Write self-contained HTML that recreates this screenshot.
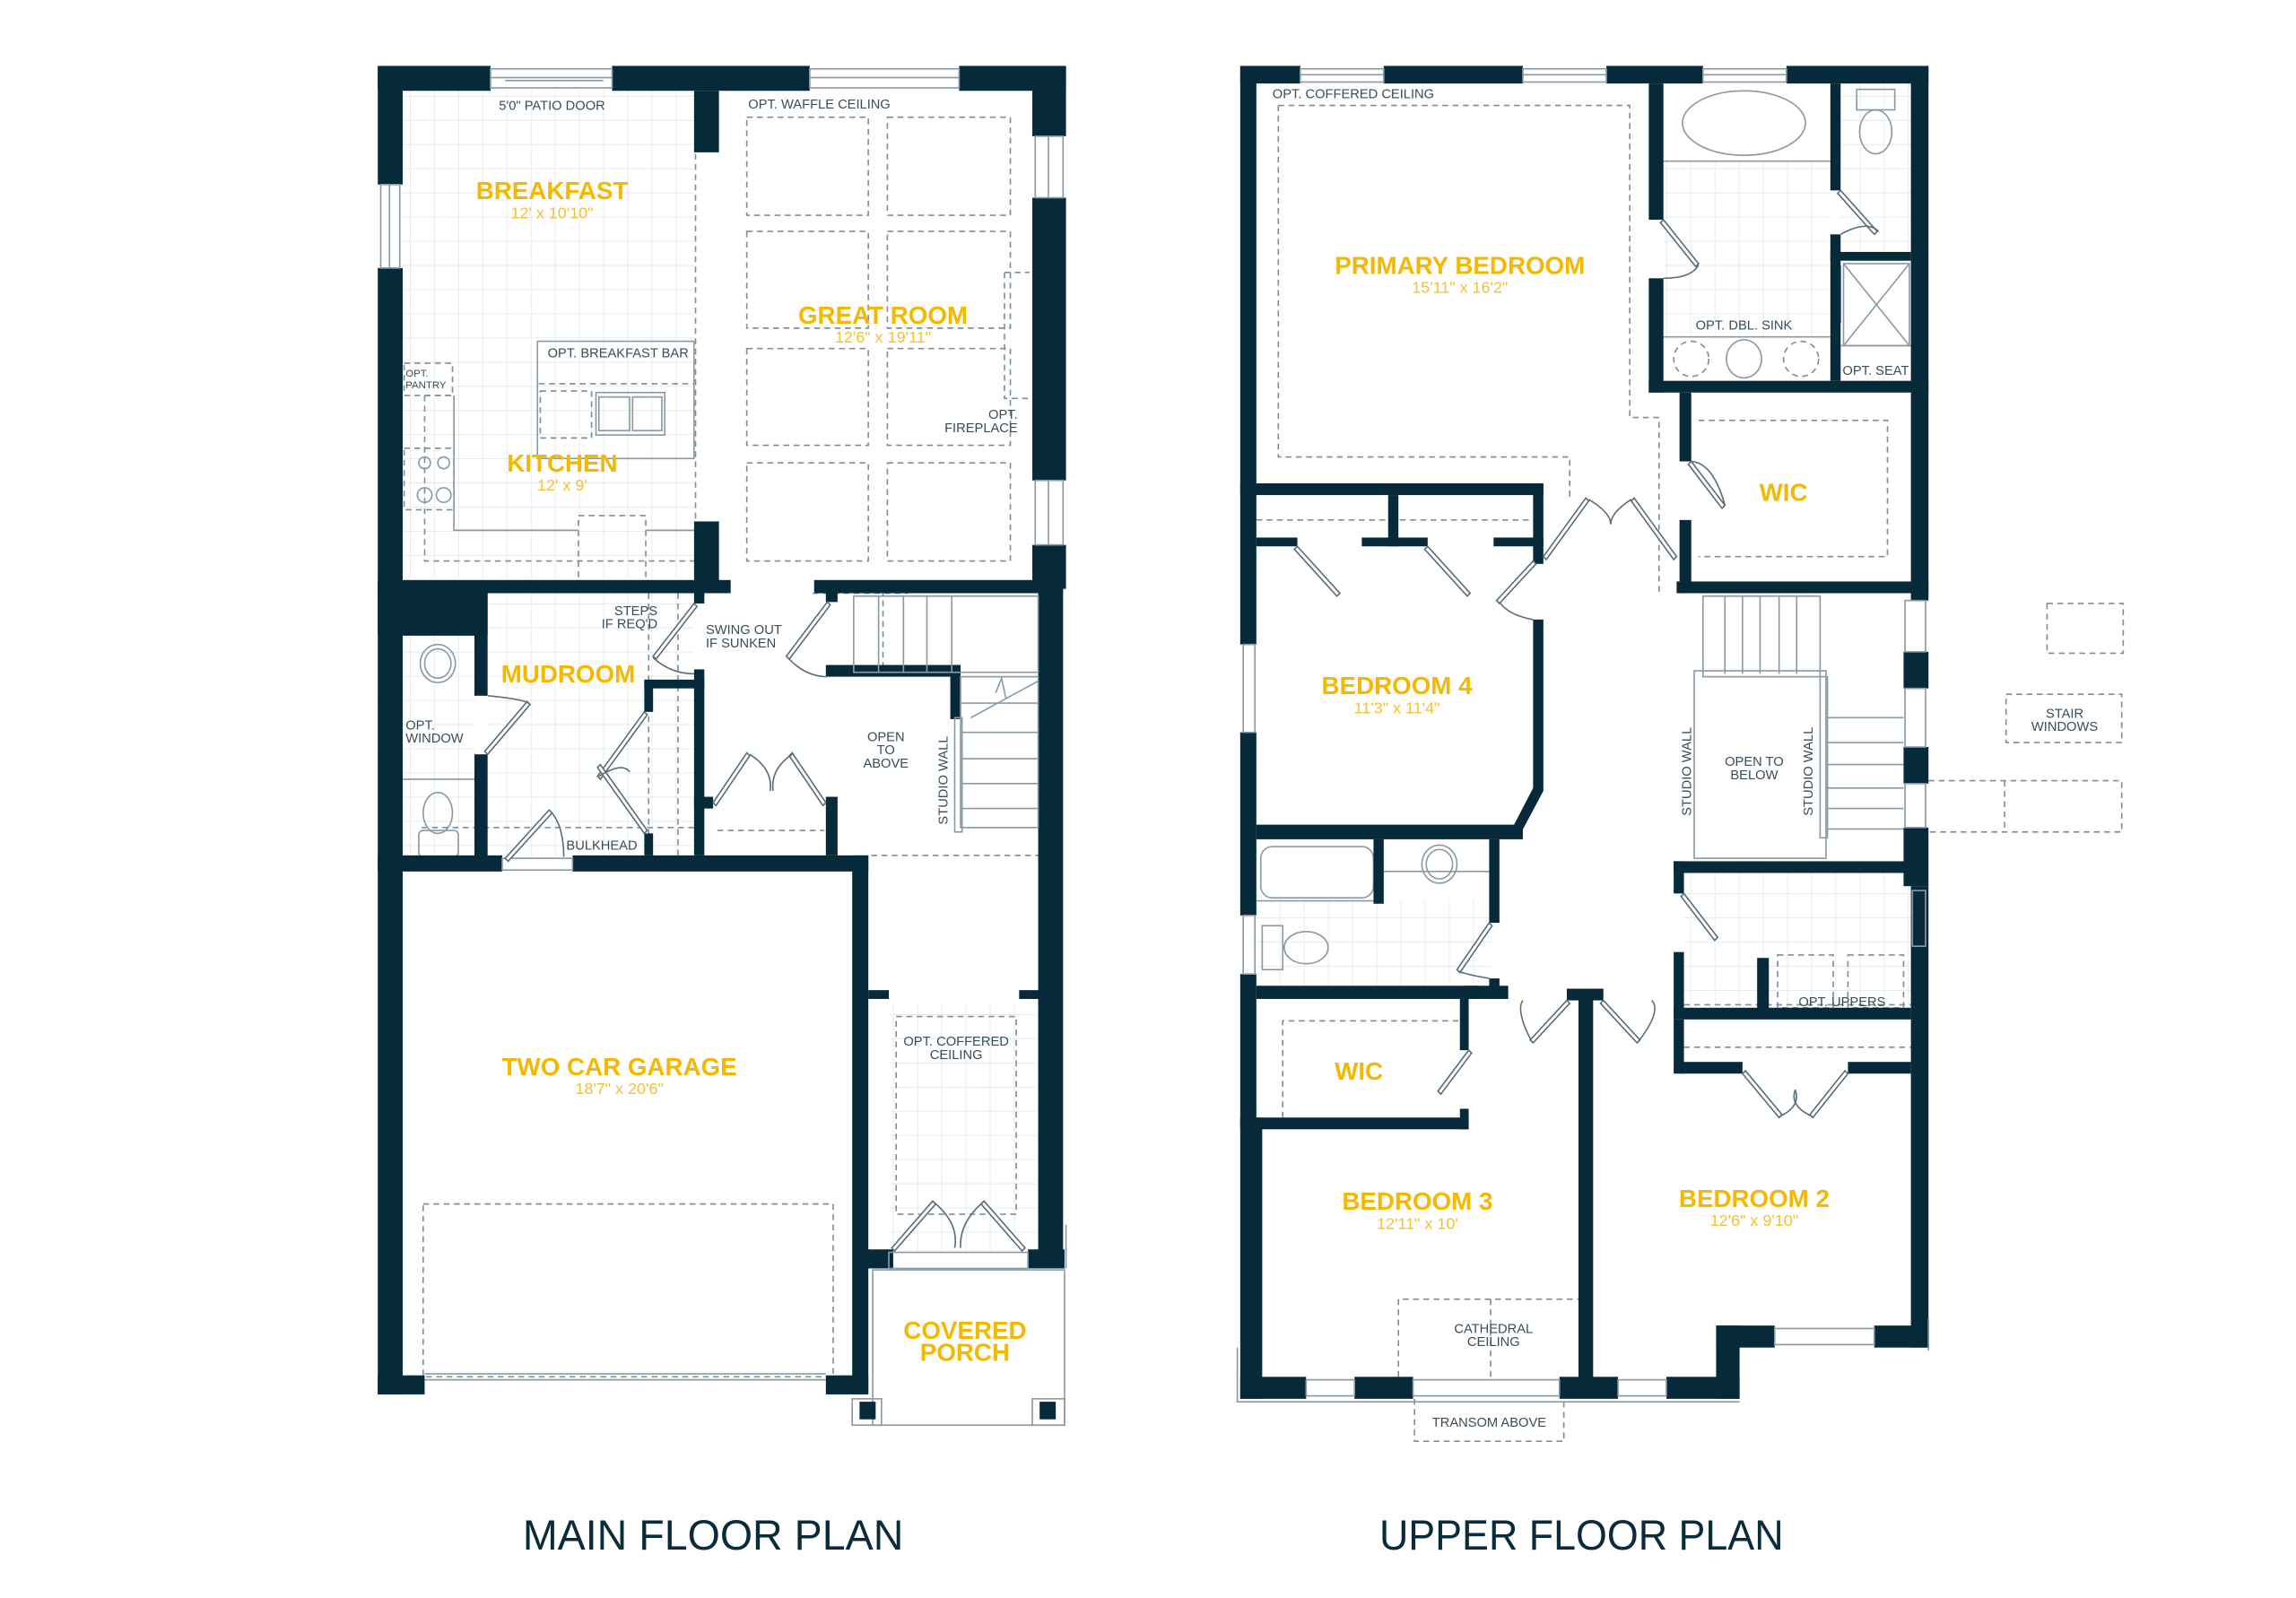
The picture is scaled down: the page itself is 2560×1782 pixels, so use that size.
<!DOCTYPE html>
<html><head><meta charset="utf-8"><style>
html,body{margin:0;padding:0;background:#fff;}
svg{display:block;}
.w{fill:#062a3a;}
.l{fill:none;stroke:#8a9aa5;stroke-width:1;}
.d{fill:none;stroke:#7f8f99;stroke-width:1;stroke-dasharray:4 3;}
.dr{fill:#fff;stroke:#5c6e79;stroke-width:1;}
.t{font-family:"Liberation Sans",sans-serif;fill:#3a4c57;font-size:9px;}
.r{font-family:"Liberation Sans",sans-serif;font-weight:bold;fill:#f5b800;font-size:17px;}
.s{font-family:"Liberation Sans",sans-serif;fill:#f5c030;font-size:11px;}
</style></head><body>
<svg width="2560" height="1782" viewBox="0 0 1568 1091" preserveAspectRatio="none" xmlns="http://www.w3.org/2000/svg">
<defs>
<pattern id="g" width="16.5" height="16.5" patternUnits="userSpaceOnUse">
<path d="M16.5 0V16.5H0" fill="none" stroke="#e2e8ec" stroke-width="1"/>
</pattern>
</defs>
<rect width="1600" height="1100" fill="#fff"/>

<!-- ===== MAIN FLOOR ===== -->
<rect x="275" y="62" width="199" height="333" fill="url(#g)"/>
<rect x="333" y="405" width="141" height="180" fill="url(#g)"/>
<rect x="275" y="434" width="50" height="150" fill="url(#g)"/>
<rect x="608" y="685" width="100" height="170" fill="url(#g)"/>

<g class="d">
<rect x="510" y="80" width="83" height="67"/><rect x="606" y="80" width="84" height="67"/>
<rect x="510" y="158" width="83" height="66"/><rect x="606" y="158" width="84" height="66"/>
<rect x="510" y="238" width="83" height="66"/><rect x="606" y="238" width="84" height="66"/>
<rect x="510" y="316" width="83" height="67"/><rect x="606" y="316" width="84" height="67"/>
<path d="M686 186H703M686 186V272H703"/>
<path d="M475 105V355"/>
<path d="M290 270V383H474M290 270H310"/>
<rect x="276" y="248" width="33" height="22"/>
<rect x="276" y="306" width="34" height="42"/>
<rect x="395" y="352" width="46" height="45"/>
<path d="M368 262H474"/>
<rect x="369" y="267" width="35" height="32"/>
<path d="M288 565H474M463 405V584M443 405V584"/>
<path d="M555 405H620M603 403V455"/>
<path d="M490 567H563"/>
<path d="M595 584H709"/>
<rect x="289" y="822" width="280" height="118"/>
<rect x="612" y="694" width="82" height="135"/>
<path d="M261 478V518M258 478H275M258 518H275"/>
</g>
<g class="l">
<rect x="367" y="233" width="107" height="80"/>
<path d="M310 270V362H395M441 362H474"/>
<rect x="407" y="268" width="47" height="29"/>
<path d="M409 271h21v23h-21zM432 271h20v23h-20z"/>
<circle cx="290" cy="316" r="4"/><circle cx="303" cy="316" r="4"/><circle cx="290" cy="338" r="5"/><circle cx="303" cy="338" r="5"/>
<ellipse cx="299" cy="453" rx="12" ry="13"/><ellipse cx="299" cy="453" rx="9" ry="10"/>
<ellipse cx="299" cy="555" rx="10" ry="14"/><rect x="286" y="567" width="27" height="18" rx="3"/>
<path d="M275 532H325"/>
</g>
<g class="w">
<rect x="258" y="45" width="77" height="17"/><rect x="418" y="45" width="135" height="17"/><rect x="655" y="45" width="73" height="17"/>
<rect x="258" y="45" width="17" height="81"/><rect x="258" y="183" width="17" height="769"/>
<rect x="705" y="45" width="23" height="48"/><rect x="705" y="135" width="23" height="193"/><rect x="705" y="372" width="23" height="30"/>
<rect x="709" y="400" width="17" height="466"/>
<rect x="474" y="62" width="17" height="42"/><rect x="474" y="356" width="17" height="44"/>
<rect x="258" y="396" width="241" height="9"/><rect x="556" y="396" width="170" height="9"/>
<rect x="258" y="400" width="75" height="34"/>
<rect x="324" y="400" width="9" height="75"/><rect x="324" y="515" width="9" height="75"/>
<rect x="258" y="584" width="85" height="11"/><rect x="391" y="584" width="202" height="11"/>
<rect x="582" y="584" width="11" height="368"/>
<rect x="258" y="939" width="32" height="13"/><rect x="564" y="939" width="29" height="13"/>
<rect x="474" y="400" width="7" height="12"/><rect x="474" y="457" width="7" height="127"/>
<rect x="440" y="464" width="41" height="6"/><rect x="440" y="464" width="6" height="22"/><rect x="440" y="569" width="6" height="15"/>
<rect x="564" y="403" width="8" height="8"/><rect x="564" y="454" width="92" height="8"/>
<rect x="649" y="454" width="7" height="37"/>
<rect x="564" y="544" width="8" height="40"/><rect x="474" y="544" width="13" height="8"/>
<rect x="593" y="676" width="14" height="6"/><rect x="696" y="676" width="14" height="6"/>
<rect x="583" y="853" width="27" height="13"/><rect x="702" y="853" width="25" height="13"/>
</g>
<g class="l">
<rect x="335" y="47" width="83" height="13"/><path d="M335 53H418M345 55H412"/>
<rect x="553" y="47" width="102" height="13"/><path d="M553 53H655"/>
<rect x="260" y="126" width="13" height="57"/><path d="M266 126V183"/>
<rect x="707" y="93" width="19" height="42"/><path d="M716 93V135"/>
<rect x="707" y="328" width="19" height="44"/><path d="M716 328V372"/>
<rect x="343" y="586" width="48" height="8"/>
<path d="M290 942H564M290 938H564"/>
<rect x="607" y="855" width="95" height="11"/>
<rect x="596" y="867" width="131" height="106"/>
<rect x="582" y="955" width="20" height="18"/><rect x="705" y="955" width="22" height="18"/>
<path d="M728 836V866"/>
</g>
<rect class="w" x="587" y="957" width="11" height="12"/><rect class="w" x="710" y="957" width="11" height="12"/>
<g class="l">
<rect x="583" y="407" width="126" height="52"/>
<path d="M600 407V459M617 407V459M633 407V459M650 407V459"/>
<rect x="656" y="462" width="53" height="103"/>
<path d="M656 480H709M656 500H709M656 518H709M656 535H709M656 552H709"/>
<rect x="652" y="490" width="5" height="78"/>
<path d="M663 490L709 465M680 473l4 -10 3 14"/>
</g>
<g class="dr">
<path d="M333 515L362 481L360 479L331 513Z"/><path d="M333 475Q355 477 361 480" fill="none"/>
<path d="M474 412L446 448L448 450L476 414Z"/><path d="M446 449Q458 460 474 460" fill="none"/>
<path d="M565 411L537 448L539 450L567 413Z"/><path d="M538 449Q550 462 565 462" fill="none"/>
<path d="M440 486L408 530L410 532L442 488Z"/><path d="M440 569L408 524L410 522L442 567Z"/>
<path d="M487 548L510 514L512 516L489 550Z"/><path d="M564 548L541 514L539 516L562 550Z"/>
<path d="M345 586L375 553L377 555L347 588Z"/>
<path d="M609 852L637 820L639 822L611 854Z"/><path d="M700 852L672 820L670 822L698 854Z"/>
</g>
<path d="M409 530Q425 520 430 527M512 515Q528 525 526 540M541 515Q526 525 528 540M638 821Q655 835 652 852M671 821Q655 835 656 852M377 555Q385 565 385 585" fill="none" stroke="#5c6e79" stroke-width="1"/>

<text class="t" x="377" y="75" text-anchor="middle">5'0" PATIO DOOR</text>
<text class="t" x="511" y="74">OPT. WAFFLE CEILING</text>
<text class="r" x="377" y="136" text-anchor="middle">BREAKFAST</text>
<text class="s" x="377" y="149" text-anchor="middle">12' x 10'10"</text>
<text class="r" x="603" y="221" text-anchor="middle">GREAT ROOM</text>
<text class="s" x="603" y="234" text-anchor="middle">12'6" x 19'11"</text>
<text class="t" x="374" y="244">OPT. BREAKFAST BAR</text>
<text class="t" x="277" y="257" style="font-size:7px">OPT.</text>
<text class="t" x="277" y="265" style="font-size:7px">PANTRY</text>
<text class="t" x="695" y="286" text-anchor="end">OPT.</text>
<text class="t" x="695" y="295" text-anchor="end">FIREPLACE</text>
<text class="r" x="384" y="322" text-anchor="middle">KITCHEN</text>
<text class="s" x="384" y="335" text-anchor="middle">12' x 9'</text>
<text class="t" x="449" y="420" text-anchor="end">STEPS</text>
<text class="t" x="449" y="429" text-anchor="end">IF REQ'D</text>
<text class="t" x="482" y="433">SWING OUT</text>
<text class="t" x="482" y="442">IF SUNKEN</text>
<text class="r" x="388" y="466" text-anchor="middle">MUDROOM</text>
<text class="t" x="277" y="498">OPT.</text>
<text class="t" x="277" y="507">WINDOW</text>
<text class="t" x="605" y="506" text-anchor="middle">OPEN</text>
<text class="t" x="605" y="515" text-anchor="middle">TO</text>
<text class="t" x="605" y="524" text-anchor="middle">ABOVE</text>
<text class="t" transform="translate(647 563) rotate(-90)">STUDIO WALL</text>
<text class="t" x="411" y="580" text-anchor="middle">BULKHEAD</text>
<text class="t" x="653" y="714" text-anchor="middle">OPT. COFFERED</text>
<text class="t" x="653" y="723" text-anchor="middle">CEILING</text>
<text class="r" x="423" y="734" text-anchor="middle">TWO CAR GARAGE</text>
<text class="s" x="423" y="747" text-anchor="middle">18'7" x 20'6"</text>
<text class="r" x="659" y="914" text-anchor="middle">COVERED</text>
<text class="r" x="659" y="929" text-anchor="middle">PORCH</text>

<!-- ===== UPPER FLOOR ===== -->
<rect x="1136" y="110" width="114" height="120" fill="url(#g)"/>
<rect x="1257" y="57" width="48" height="115" fill="url(#g)"/>
<rect x="858" y="615" width="160" height="58" fill="url(#g)"/>
<rect x="1150" y="596" width="155" height="92" fill="url(#g)"/>
<g class="d">
<path d="M873 72H1113V285H1133V405M873 72V312H1072V340"/>
<path d="M1160 287H1289V380H1160"/>
<path d="M858 355H1047"/>
<rect x="1398" y="412" width="52" height="34"/>
<rect x="1370" y="474" width="79" height="33"/>
<path d="M1317 533H1449V568H1317M1369 533V568"/>
<rect x="1214" y="652" width="38" height="36"/><rect x="1262" y="652" width="38" height="36"/>
<path d="M1150 686H1305"/>
<path d="M876 770V697H997"/>
<path d="M1150 715H1305"/>
<path d="M955 940V887H1080M1018 887V940"/>
<path d="M966 955V984H1068V955"/>
<ellipse cx="1155" cy="245" rx="12" ry="12"/><ellipse cx="1230" cy="245" rx="12" ry="12"/>
</g>
<g class="l">
<ellipse cx="1191" cy="84" rx="42" ry="22"/>
<path d="M1136 110H1250M1136 230H1250"/>
<ellipse cx="1191" cy="245" rx="12" ry="13"/>
<rect x="1268" y="61" width="26" height="14"/><ellipse cx="1281" cy="90" rx="11" ry="15"/>
<rect x="1259" y="180" width="45" height="56"/><path d="M1259 180L1304 236M1304 180L1259 236M1257 236H1305"/>
<rect x="1252" y="182" width="5" height="38"/>
<rect x="861" y="578" width="77" height="35" rx="8"/>
<ellipse cx="983" cy="590" rx="12" ry="13"/><ellipse cx="983" cy="590" rx="9" ry="10"/>
<rect x="862" y="632" width="14" height="30"/><ellipse cx="892" cy="647" rx="15" ry="11"/>
<path d="M858 615H938M945 595H1017"/>
<rect x="1163" y="407" width="80" height="55"/>
<path d="M1178 407V460M1190 407V460M1202 407V460M1215 407V460M1227 407V460"/>
<rect x="1157" y="458" width="90" height="128"/>
<path d="M1247 490H1300M1247 507H1300M1247 522H1300M1247 538H1300M1247 552H1300M1247 566H1300"/>
<rect x="1243" y="462" width="5" height="110"/>
</g>
<g class="w">
<rect x="847" y="45" width="41" height="12"/><rect x="945" y="45" width="95" height="12"/><rect x="1097" y="45" width="66" height="12"/><rect x="1220" y="45" width="97" height="12"/>
<rect x="847" y="45" width="11" height="395"/><rect x="847" y="500" width="11" height="125"/><rect x="847" y="665" width="11" height="103"/>
<rect x="847" y="763" width="15" height="192"/>
<rect x="1305" y="45" width="12" height="365"/><rect x="1300" y="445" width="17" height="25"/><rect x="1300" y="510" width="17" height="25"/><rect x="1300" y="565" width="17" height="40"/>
<rect x="1305" y="605" width="12" height="315"/>
<rect x="1126" y="57" width="10" height="93"/><rect x="1126" y="190" width="10" height="78"/>
<rect x="1126" y="260" width="191" height="8"/>
<rect x="1250" y="57" width="7" height="73"/><rect x="1250" y="160" width="7" height="100"/>
<rect x="1250" y="172" width="55" height="6"/>
<rect x="1147" y="268" width="8" height="47"/><rect x="1147" y="355" width="8" height="50"/>
<rect x="1145" y="397" width="172" height="8"/>
<rect x="847" y="330" width="207" height="8"/><rect x="1047" y="330" width="7" height="55"/>
<rect x="858" y="367" width="28" height="6"/><rect x="930" y="367" width="45" height="6"/><rect x="1020" y="367" width="34" height="6"/>
<rect x="948" y="338" width="7" height="35"/>
<path d="M1047 423H1054V540L1038 570H858V563H1034L1047 538Z"/>
<rect x="858" y="565" width="182" height="8"/>
<rect x="938" y="573" width="7" height="44"/>
<rect x="1017" y="573" width="7" height="57"/><rect x="1017" y="668" width="7" height="10"/>
<rect x="858" y="673" width="172" height="9"/><rect x="1000" y="673" width="10" height="9"/>
<rect x="997" y="682" width="6" height="35"/><rect x="997" y="757" width="6" height="14"/>
<rect x="847" y="763" width="156" height="8"/>
<rect x="1078" y="675" width="10" height="270"/>
<rect x="1070" y="675" width="25" height="8"/>
<rect x="1143" y="588" width="162" height="8"/>
<rect x="1143" y="588" width="7" height="22"/><rect x="1143" y="650" width="7" height="45"/>
<rect x="1200" y="654" width="8" height="36"/>
<rect x="1143" y="688" width="162" height="8"/>
<rect x="1143" y="696" width="7" height="37"/>
<rect x="1147" y="725" width="43" height="8"/><rect x="1262" y="725" width="43" height="8"/>
<rect x="847" y="940" width="45" height="15"/><rect x="925" y="940" width="40" height="15"/><rect x="1065" y="940" width="40" height="15"/><rect x="1138" y="940" width="50" height="15"/>
<rect x="1172" y="905" width="16" height="50"/><rect x="1172" y="905" width="40" height="15"/><rect x="1280" y="905" width="37" height="15"/>
</g>
<g class="l">
<rect x="888" y="47" width="57" height="9"/><path d="M888 51H945"/>
<rect x="1040" y="47" width="57" height="9"/><path d="M1040 51H1097"/>
<rect x="1163" y="47" width="57" height="9"/><path d="M1163 51H1220"/>
<rect x="849" y="440" width="8" height="60"/><rect x="849" y="625" width="8" height="40"/>
<rect x="1301" y="410" width="14" height="35"/><rect x="1301" y="470" width="14" height="40"/><rect x="1301" y="535" width="14" height="30"/>
<rect x="1306" y="608" width="9" height="38"/>
<rect x="892" y="942" width="33" height="11"/><rect x="965" y="942" width="100" height="11"/><rect x="1105" y="942" width="33" height="11"/>
<rect x="1212" y="907" width="68" height="11"/>
<path d="M845 920V957H1188M1317 900V922"/>
</g>
<g class="dr">
<path d="M1136 150L1160 180L1158 182L1134 152Z"/><path d="M1257 130L1282 158L1280 160L1255 132Z"/>
<path d="M1155 315L1178 345L1176 347L1153 317Z"/>
<path d="M1054 380L1083 340L1085 342L1056 382Z"/><path d="M1145 380L1116 340L1114 342L1143 382Z"/>
<path d="M886 373L915 405L913 407L884 375Z"/><path d="M975 373L1004 405L1002 407L973 375Z"/>
<path d="M1047 383L1022 410L1024 412L1049 385Z"/>
<path d="M1017 630L995 662L997 664L1019 632Z"/>
<path d="M1150 610L1173 640L1171 642L1148 612Z"/>
<path d="M1003 717L982 745L984 747L1005 719Z"/>
<path d="M1070 683L1045 710L1047 712L1072 685Z"/><path d="M1095 683L1120 710L1118 712L1093 685Z"/>
<path d="M1190 733L1215 763L1217 761L1192 731Z"/><path d="M1262 733L1238 763L1236 761L1260 731Z"/>
</g>
<path d="M1136 190Q1155 190 1160 181M1257 160Q1275 150 1283 158M1155 315Q1170 316 1178 345M1085 341Q1100 350 1100 358M1114 341Q1100 350 1100 358M1024 411Q1030 420 1047 423M1017 668Q1000 665 996 663M1226 744Q1230 755 1216 762M1226 744Q1222 755 1237 762M1046 711Q1035 690 1040 683M1119 711Q1135 690 1128 683" fill="none" stroke="#5c6e79" stroke-width="1"/>

<text class="t" x="869" y="67">OPT. COFFERED CEILING</text>
<text class="r" x="997" y="187" text-anchor="middle">PRIMARY BEDROOM</text>
<text class="s" x="997" y="200" text-anchor="middle">15'11" x 16'2"</text>
<text class="t" x="1191" y="225" text-anchor="middle">OPT. DBL. SINK</text>
<text class="t" x="1281" y="256" text-anchor="middle">OPT. SEAT</text>
<text class="r" x="1218" y="342" text-anchor="middle">WIC</text>
<text class="r" x="954" y="474" text-anchor="middle">BEDROOM 4</text>
<text class="s" x="954" y="487" text-anchor="middle">11'3" x 11'4"</text>
<text class="t" transform="translate(1155 557) rotate(-90)">STUDIO WALL</text>
<text class="t" transform="translate(1238 557) rotate(-90)">STUDIO WALL</text>
<text class="t" x="1198" y="523" text-anchor="middle">OPEN TO</text>
<text class="t" x="1198" y="532" text-anchor="middle">BELOW</text>
<text class="t" x="1410" y="490" text-anchor="middle">STAIR</text>
<text class="t" x="1410" y="499" text-anchor="middle">WINDOWS</text>
<text class="t" x="1258" y="687" text-anchor="middle">OPT. UPPERS</text>
<text class="r" x="928" y="737" text-anchor="middle">WIC</text>
<text class="r" x="968" y="826" text-anchor="middle">BEDROOM 3</text>
<text class="s" x="968" y="839" text-anchor="middle">12'11" x 10'</text>
<text class="r" x="1198" y="824" text-anchor="middle">BEDROOM 2</text>
<text class="s" x="1198" y="837" text-anchor="middle">12'6" x 9'10"</text>
<text class="t" x="1020" y="910" text-anchor="middle">CATHEDRAL</text>
<text class="t" x="1020" y="919" text-anchor="middle">CEILING</text>
<text class="t" x="1017" y="974" text-anchor="middle">TRANSOM ABOVE</text>

<text x="357" y="1058" textLength="260" lengthAdjust="spacingAndGlyphs" style="font-family:'Liberation Sans',sans-serif;font-size:29px;fill:#0a2b3a">MAIN FLOOR PLAN</text>
<text x="942" y="1058" textLength="276" lengthAdjust="spacingAndGlyphs" style="font-family:'Liberation Sans',sans-serif;font-size:29px;fill:#0a2b3a">UPPER FLOOR PLAN</text>
</svg>
</body></html>
